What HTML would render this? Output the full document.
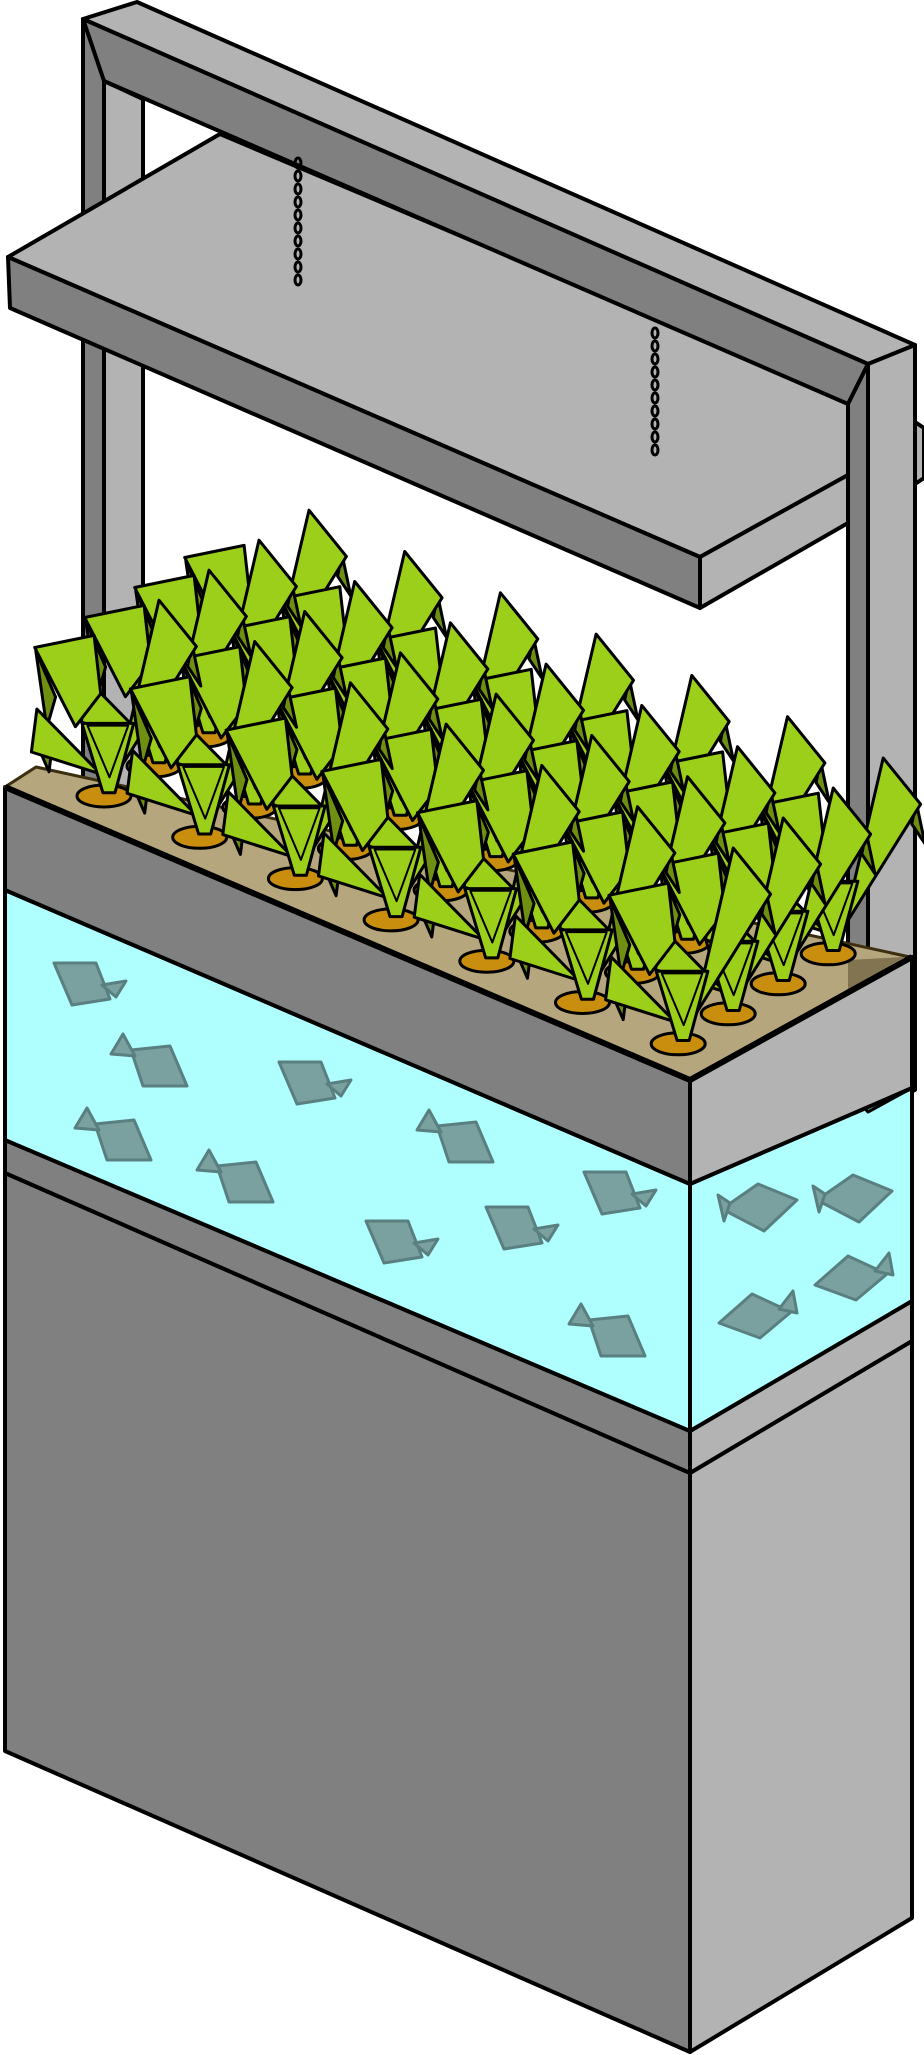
<!DOCTYPE html>
<html><head><meta charset="utf-8"><style>
html,body{margin:0;padding:0;background:#fff;}
svg{display:block;}
</style></head><body>
<svg id="scene" width="924" height="2055" viewBox="0 0 924 2055" xmlns="http://www.w3.org/2000/svg" stroke="#000" stroke-width="4" stroke-linejoin="round">
<g>
<polygon points="83,19 104,28 104,800 83,800" fill="#808080"/>
<polygon points="104,81 143,99 143,800 104,800" fill="#b3b3b3"/>
</g>
<g>
<polygon points="8,257 220,134 848,400 848,475 700,557" fill="#b3b3b3"/>
<polygon points="8,257 700,557 700,608 10,308" fill="#808080"/>
<polygon points="700,557 848,475 848,523 700,608" fill="#b3b3b3"/>
</g>
<g>
<polygon points="83,19 137,2 915,345 868,364" fill="#b3b3b3"/>
<polygon points="83,19 868,364 848,404 104,81" fill="#808080"/>
</g>
<g>
<polygon points="848,404 868,364 868,1112 848,1102" fill="#808080"/>
<polygon points="868,364 915,345 915,1090 868,1112" fill="#b3b3b3"/>
<polygon points="915,422 924,428 924,478 915,484" fill="#b3b3b3"/>
</g>
<g fill="none" stroke-width="3">
<ellipse cx="298" cy="163" rx="3" ry="5"/><ellipse cx="298" cy="176" rx="3" ry="5"/><ellipse cx="298" cy="189" rx="3" ry="5"/><ellipse cx="298" cy="202" rx="3" ry="5"/><ellipse cx="298" cy="215" rx="3" ry="5"/><ellipse cx="298" cy="228" rx="3" ry="5"/><ellipse cx="298" cy="241" rx="3" ry="5"/><ellipse cx="298" cy="254" rx="3" ry="5"/><ellipse cx="298" cy="267" rx="3" ry="5"/><ellipse cx="298" cy="280" rx="3" ry="5"/>
</g>
<g fill="none" stroke-width="3">
<ellipse cx="655" cy="333" rx="3" ry="5"/><ellipse cx="655" cy="346" rx="3" ry="5"/><ellipse cx="655" cy="359" rx="3" ry="5"/><ellipse cx="655" cy="372" rx="3" ry="5"/><ellipse cx="655" cy="385" rx="3" ry="5"/><ellipse cx="655" cy="398" rx="3" ry="5"/><ellipse cx="655" cy="411" rx="3" ry="5"/><ellipse cx="655" cy="424" rx="3" ry="5"/><ellipse cx="655" cy="437" rx="3" ry="5"/><ellipse cx="655" cy="450" rx="3" ry="5"/>
</g>
<g>
<polygon points="5,1173 690,1473 690,2052 5,1751" fill="#808080"/>
<polygon points="690,1473 912,1341 912,1918 690,2052" fill="#b3b3b3"/>
<polygon points="5,1140 690,1431 690,1473 5,1173" fill="#808080"/>
<polygon points="690,1431 912,1301 912,1341 690,1473" fill="#b3b3b3"/>
<polygon points="5,890 690,1184 690,1431 5,1140" fill="#b0ffff"/>
<polygon points="690,1184 912,1088 912,1301 690,1431" fill="#b0ffff"/>
<polygon points="848,1090 868,1112 912,1088 912,1060 868,1080 848,1070" fill="#7ab3b3" stroke-width="3"/>
<polygon points="5,787 690,1080 690,1184 5,890" fill="#808080"/>
<polygon points="690,1080 912,957 912,1088 690,1184" fill="#b3b3b3"/>
<polygon points="5,787 36,767 910,957 690,1080" fill="#b5a67e" stroke="#3d2e10" stroke-width="3"/>
<polygon points="848,960 905,957 868,978 848,990" fill="#766845" opacity="0.8" stroke="none"/>
<line x1="5" y1="787" x2="690" y2="1080" stroke-width="6"/>
<line x1="690" y1="1080" x2="912" y2="957" stroke-width="6"/>
</g>
<g id="fish"></g>
<g id="plants"></g>
<script>
const rows=[0,1,2,3];
const cols=[0,1,2,3,4,5,6];
const origin=[104,796], u=[95.7,41.3], v=[50,-30];
const NS='http://www.w3.org/2000/svg';
const plantsG=document.getElementById('plants');
function poly(g,pts,fill,sw){const p=document.createElementNS(NS,'polygon');p.setAttribute('points',pts.map(a=>a.join(',')).join(' '));p.setAttribute('fill',fill);if(sw)p.setAttribute('stroke-width',sw);g.appendChild(p);return p;}
const G='#9ccf1a',D='#6f8f12';
for(let r=rows.length-1;r>=0;r--){
 for(const c of cols){
  const cx=origin[0]+u[0]*c+v[0]*rows[r], cy=origin[1]+u[1]*c+v[1]*rows[r];
  const g=document.createElementNS(NS,'g');
  
  
  g.setAttribute('stroke-width','3');
  const e=document.createElementNS(NS,'ellipse');
  e.setAttribute('cx',cx);e.setAttribute('cy',cy);e.setAttribute('rx',27);e.setAttribute('ry',11);e.setAttribute('fill','#c98e0e');
  g.appendChild(e);
  const P=a=>a.map(q=>[cx+q[0]*1.1,cy+q[1]*1.1]);
  poly(g,P([[-62,-132],[-52,-62],[-44,-90]]),D);
  poly(g,P([[-63,-135],[-9,-146],[-3,-93],[-26,-63]]),G);
  poly(g,P([[80,-138],[88,-100],[76,-118]]),D);
  poly(g,P([[14,-24],[50,-178],[84,-136]]),G);
  poly(g,P([[-60,-45],[-50,-22],[-48,-38]]),D);
  poly(g,P([[-61,-79],[-66,-40],[-3,-20]]),G);
  poly(g,P([[-20,-66],[27,-66],[10,-3],[-1,-3]]),G);
  poly(g,P([[-15,-64],[22,-64],[5,-17]]),G,2);
  plantsG.appendChild(g);
 }
}
const fishA=[[54,963],[279,1062],[584,1172],[486,1207],[366,1221]];
const fishB=[[131,1046],[95,1120],[217,1162],[437,1122],[589,1316]];
const fishSideL=[[722,1209],[817,1200]];
const fishSideR=[[815,1285],[719,1323]];
const fishG=document.getElementById('fish');
for(const f of fishA){
 const g=document.createElementNS(NS,'g');
 
 
 g.setAttribute('stroke','#5a7f80');g.setAttribute('stroke-width','3');
 const [x,y]=f;
 poly(g,[[x,y],[x+42,y],[x+56,y+36],[x+18,y+42]],'#7aa09f');
 poly(g,[[x+48,y+22],[x+72,y+18],[x+62,y+34]],'#7aa09f');
 fishG.appendChild(g);
}
for(const f of fishB){
 const g=document.createElementNS(NS,'g');
 
 
 g.setAttribute('stroke','#5a7f80');g.setAttribute('stroke-width','3');
 const [x,y]=f;
 poly(g,[[x,y+4],[x+39,y],[x+56,y+40],[x+12,y+40]],'#7aa09f');
 poly(g,[[x-20,y+8],[x-8,y-12],[x+4,y+10]],'#7aa09f');
 fishG.appendChild(g);
}
for(const f of fishSideL){
 const g=document.createElementNS(NS,'g');
 
 
 g.setAttribute('stroke','#5a7f80');g.setAttribute('stroke-width','3');
 const [x,y]=f;
 poly(g,[[x,y],[x+36,y-25],[x+75,y-9],[x+42,y+22]],'#7aa09f');
 poly(g,[[x-4,y-14],[x+8,y-6],[x+2,y+12]],'#7aa09f');
 fishG.appendChild(g);
}
for(const f of fishSideR){
 const g=document.createElementNS(NS,'g');
 
 
 g.setAttribute('stroke','#5a7f80');g.setAttribute('stroke-width','3');
 const [x,y]=f;
 poly(g,[[x,y],[x+33,y-29],[x+72,y-11],[x+41,y+15]],'#7aa09f');
 poly(g,[[x+60,y-14],[x+74,y-32],[x+78,y-10]],'#7aa09f');
 fishG.appendChild(g);
}
</script>
</svg>
</body></html>
